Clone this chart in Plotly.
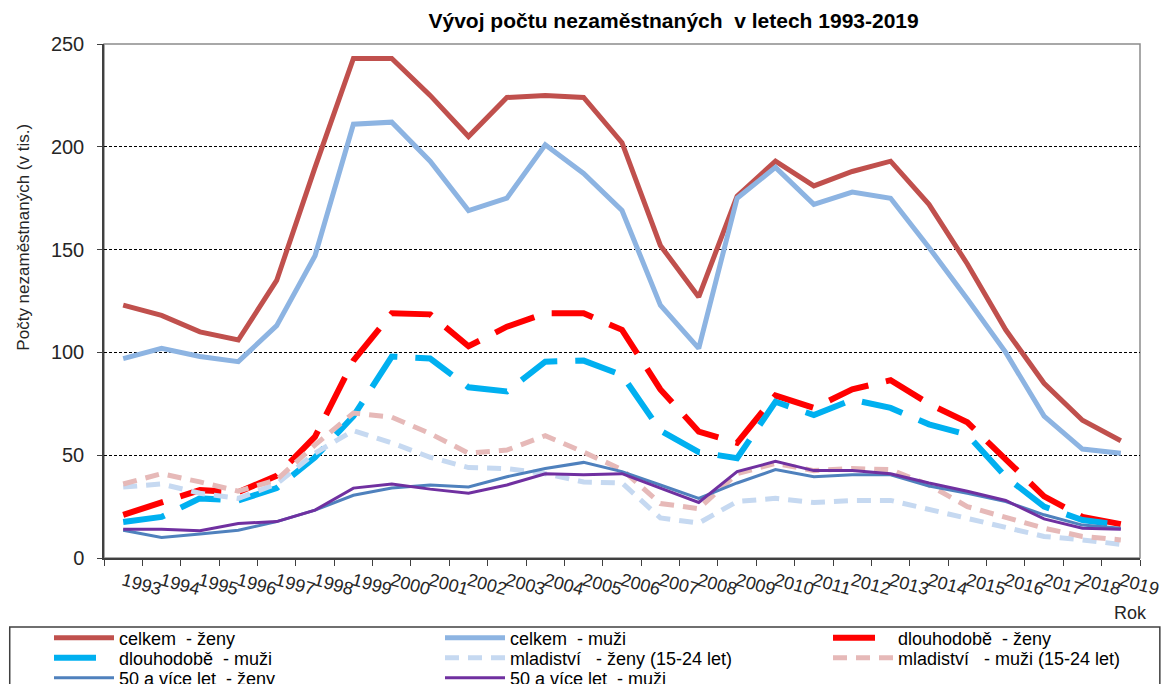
import plotly.graph_objects as go

years = [str(y) for y in range(1993, 2020)]

celkem_zeny = [123, 118, 110, 106, 135, 190, 243, 243, 225, 205, 224, 225, 224, 202,
               152, 127, 176, 193, 181, 188, 193, 172, 143, 111, 85, 67, 57]
celkem_muzi = [97, 102, 98, 95.5, 113, 147, 211, 212, 193, 169, 175, 201, 187, 169,
               123, 102, 175, 190, 172, 178, 175, 151, 126, 100, 69, 53, 51]
dlouho_zeny = [21, 27, 33, 32, 40, 59, 96, 119, 118.5, 103, 112.5, 119, 119, 111,
               82, 61.5, 56, 79, 73, 82, 86.5, 75, 66, 48, 30, 20, 16.5]
dlouho_muzi = [17.5, 20, 29, 28, 34, 49, 69, 98, 97, 83, 81, 95.5, 96, 89,
               62, 51.5, 48.5, 76, 69.5, 77, 73, 65, 60, 39.5, 25, 18.5, 16]
mlad_zeny = [34.5, 36, 31.5, 29, 36, 51, 62, 56, 49, 44, 43.5, 41, 37, 36.5,
             19.5, 17, 27.5, 29, 27, 28, 28, 23.5, 19.5, 14.5, 10.5, 8.8, 6.6]
mlad_muzi = [36, 41, 37, 32.5, 38, 55, 70.5, 68.5, 60.5, 51, 52.5, 59.5, 51.5, 43,
             26.5, 24, 41, 46, 42.5, 43.5, 43, 35.5, 25, 20, 14.5, 10.5, 8.8]
p50_zeny = [13.5, 10, 11.7, 13.5, 17.7, 23.3, 30.5, 34, 35.5, 34.5, 39.5, 43.5, 46.5, 42,
            35.5, 29, 36.5, 43, 39.5, 40.5, 40.5, 35, 31.5, 27.5, 21, 16, 14.5]
p50_muzi = [14, 14, 13.3, 16.8, 17.7, 23.3, 34, 36, 33.5, 31.5, 35.5, 41, 40.5, 41,
            34, 27, 42, 47, 42.5, 42.5, 41, 36.5, 32.5, 28, 19, 14.5, 14]

# name, values, colour, width, dash, legend slot
series = [
    ("celkem\u00a0\u00a0- ženy", celkem_zeny, "#C0504D", 5, "solid", "legend"),
    ("celkem\u00a0\u00a0- muži", celkem_muzi, "#8DB4E2", 5, "solid", "legend"),
    ("dlouhodobě\u00a0\u00a0- ženy", dlouho_zeny, "#FF0000", 6, "42px,18px", "legend4"),
    ("dlouhodobě\u00a0\u00a0- muži", dlouho_muzi, "#00B0F0", 6, "42px,18px", "legend2"),
    ("mladiství\u00a0\u00a0\u00a0- ženy (15-24 let)", mlad_zeny, "#C6D9F1", 5, "14px,9px", "legend2"),
    ("mladiství\u00a0\u00a0\u00a0- muži (15-24 let)", mlad_muzi, "#E6B9B8", 5, "14px,9px", "legend5"),
    ("50 a více let\u00a0\u00a0- ženy", p50_zeny, "#4F81BD", 3, "solid", "legend3"),
    ("50 a více let\u00a0\u00a0- muži", p50_muzi, "#7030A0", 3, "solid", "legend3"),
]

FONT = "Arial, Liberation Sans, sans-serif"
TXT = "#262626"

# the page body adds an 8px offset; the figure is sized to fill the rest
OFF = 8
W, H = 1173 - OFF, 684 - OFF
L, R, T, B = 104 - OFF, 1173 - 1148, 44 - OFF, 684 - 558
pw = W - L - R
ph = H - T - B

def px(x):   # page pixel x -> paper x
    return (x - OFF - L) / pw

def py(y):   # page pixel y -> paper y
    return (H - B - (y - OFF)) / ph

def cx(x):   # page pixel x -> container x
    return (x - OFF) / W

def cy(y):   # page pixel y -> container y
    return 1 - (y - OFF) / H

fig = go.Figure()
for name, vals, color, w, dash, lg in series:
    fig.add_trace(go.Scatter(x=years, y=vals, name=name, mode="lines",
                             line=dict(color=color, width=w, dash=dash),
                             legend=lg))

legend_common = dict(orientation="h", xref="container", yref="container",
                     xanchor="left", yanchor="middle",
                     font=dict(family=FONT, size=18, color="#000"),
                     itemwidth=60, entrywidth=316, entrywidthmode="pixels",
                     bgcolor="rgba(0,0,0,0)", borderwidth=0, tracegroupgap=0,
                     itemclick=False, itemdoubleclick=False)
legend_single = dict(legend_common, entrywidth=0)

fig.update_layout(
    width=W, height=H,
    margin=dict(l=L, r=R, t=T, b=B),
    paper_bgcolor="white", plot_bgcolor="white",
    title=dict(text="<b>Vývoj počtu nezaměstnaných  v letech 1993-2019</b>",
               x=px(678), xref="paper", xanchor="center",
               y=cy(21), yref="container", yanchor="middle",
               font=dict(family=FONT, size=21, color="#000")),
    legend=dict(legend_common, x=cx(49), y=cy(638)),
    legend2=dict(legend_common, x=cx(49), y=cy(658)),
    legend3=dict(legend_common, x=cx(49), y=cy(678)),
    legend4=dict(legend_single, x=cx(828), y=cy(638)),
    legend5=dict(legend_single, x=cx(828), y=cy(658)),
    xaxis=dict(type="category", range=[-0.5, 26.5], tickson="boundaries",
               ticks="outside", ticklen=6, tickcolor="#404040",
               showline=True, linecolor="#404040", linewidth=1.5,
               showgrid=False, tickangle=15, ticklabelstandoff=4,
               tickfont=dict(family=FONT, size=18, color=TXT)),
    yaxis=dict(range=[0, 250], dtick=50, ticks="outside", ticklen=5,
               tickcolor="#404040", showline=True, linecolor="#404040",
               linewidth=1.5, showgrid=True, gridcolor="#000000", gridwidth=1,
               griddash="3px,2px", zeroline=False, ticklabelstandoff=9,
               tickfont=dict(family=FONT, size=20, color=TXT)),
    shapes=[
        dict(type="rect", xref="paper", yref="paper", x0=0, x1=1, y0=0, y1=1,
             line=dict(color="#8C8C8C", width=1.5), layer="below"),
        dict(type="rect", xref="paper", yref="paper", x0=px(9), x1=px(1168),
             y0=py(627), y1=py(720), line=dict(color="#404040", width=1.5)),
    ],
    annotations=[
        dict(text="Počty nezaměstnaných (v tis.)", xref="paper", yref="paper",
             x=px(22), y=py(237), textangle=-90, showarrow=False,
             xanchor="center", yanchor="middle",
             font=dict(family=FONT, size=17, color=TXT)),
        dict(text="Rok", xref="paper", yref="paper", x=px(1157), y=py(613),
             xanchor="right", yanchor="middle", showarrow=False,
             font=dict(family=FONT, size=18, color=TXT)),
    ],
    showlegend=True,
)

fig.write_html("out.html")
